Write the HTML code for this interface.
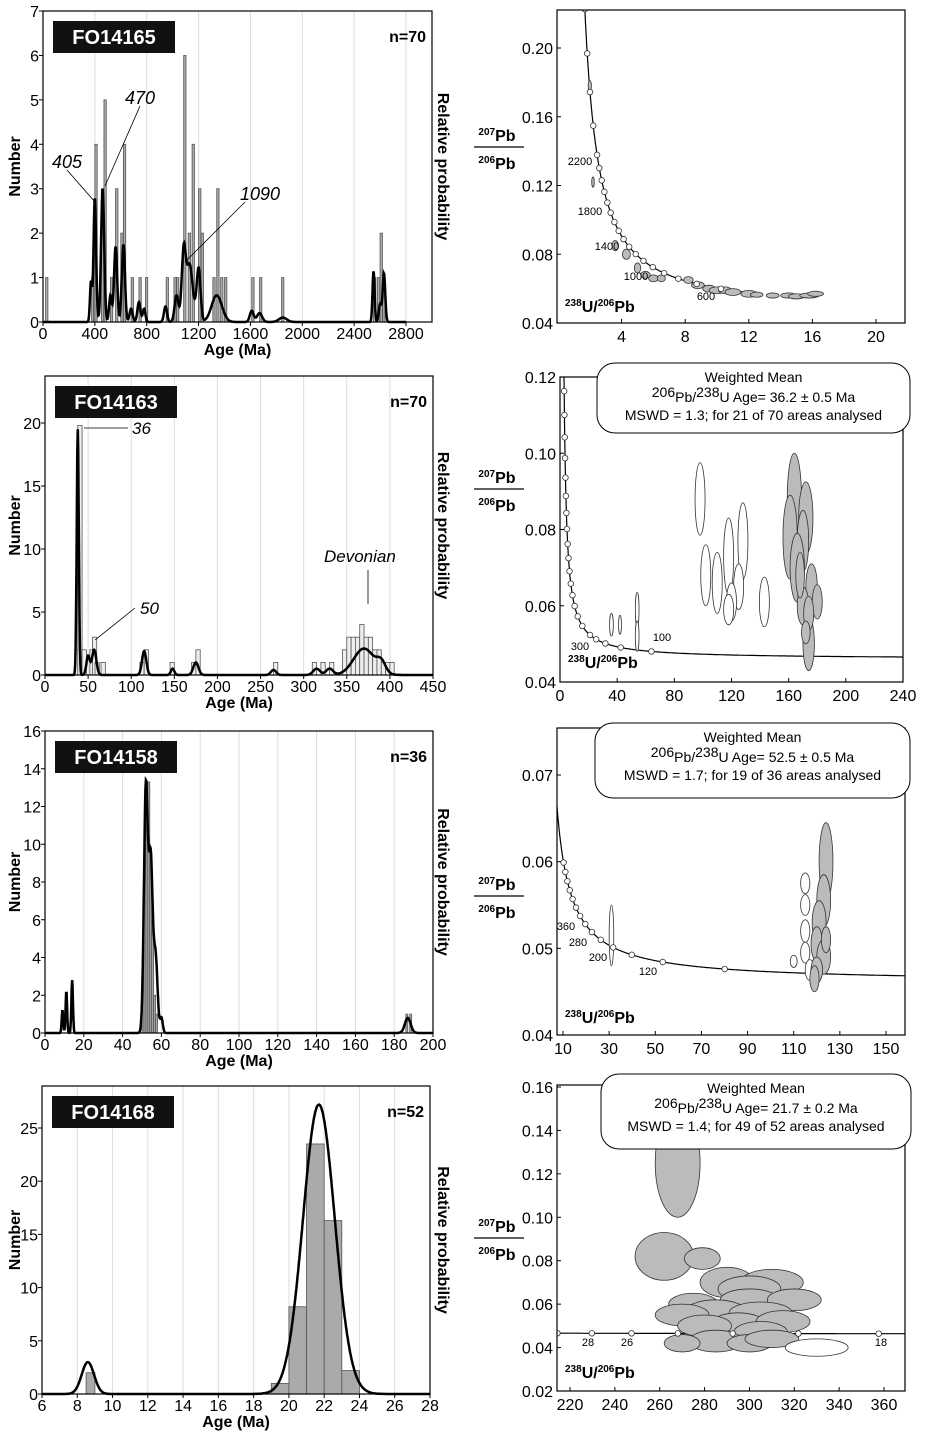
<!DOCTYPE html>
<html><head><meta charset="utf-8"><style>
html,body{margin:0;padding:0;background:#fff}
svg{display:block;font-family:"Liberation Sans",sans-serif}
</style></head><body>
<svg id="fig" width="929" height="1441" viewBox="0 0 929 1441" xmlns="http://www.w3.org/2000/svg"></svg>
<script>
// ---------- DATA ----------
const aBarAges=[20,375,390,400,450,470,520,560,600,620,680,740,790,950,1010,1030,1085,1120,1150,1200,1220,1310,1340,1370,1400,1610,1670,1840,2550,2580,2600,2620];
const aBarCounts=[1,1,2,4,3,5,1,3,2,4,1,1,1,1,1,1,6,2,4,3,2,1,3,1,1,1,1,1,1,1,2,1];
const aPeakAges=[370,400,460,520,560,620,680,740,780,945,1030,1085,1130,1200,1340,1610,1670,1850,2550,2600,2630];
const aPeakHeights=[0.9,2.8,3.0,0.6,1.7,1.75,0.3,0.45,0.3,0.35,0.6,1.5,1.3,1.2,0.6,0.25,0.2,0.1,1.15,0.4,1.1];
const aPeakSigmas=[8,10,12,10,12,12,12,12,10,12,15,15,25,15,40,15,20,30,8,10,10];
const bBarAges=[35,38,43,52,55,58,65,110,115,145,170,175,265,310,320,330,345,350,355,360,365,370,375,380,385,390,395,400];
const bBarCounts=[2,19.8,2,2,3,1,1,1,2,1,1,2,1,1,1,1,2,3,3,3,4,3,3,2,2,1,1,1];
const bPeakAges=[38,50,57,115,148,175,265,315,330,370,390];
const bPeakHeights=[19.5,1.5,2.0,1.9,0.5,1.0,0.4,0.5,0.5,2.1,0.8];
const bPeakSigmas=[1.2,2,2.5,2.5,2,3,3,4,4,12,5];
const cBarAges=[50,51,52,53,54,55,56,57,186,188];
const cBarCounts=[4,10,13,13.3,9,6,2,1,1,1];
const cPeakAges=[9,11,14,52,54.5,57,60,187];
const cPeakHeights=[1.2,2.2,2.8,13,9,4,0.8,0.8];
const cPeakSigmas=[0.4,0.4,0.4,1,1,1,0.7,1.5];
const dBarAges=[8.5,19,20,21,22,23];
const dBarWidths=[0.5,1,1,1,1,1];
const dBarCounts=[2,1,8.2,23.5,16.3,2.2];
const dPeakAges=[8.6,21.7];
const dPeakHeights=[3.0,27.2];
const dPeakSigmas=[0.35,0.9];
const eEllipses=[[2,0.178,0.1,0.003,1],[2.2,0.122,0.08,0.003,1],[3.6,0.085,0.2,0.003,1],[4.3,0.08,0.25,0.003,1],[5,0.072,0.2,0.003,1],[5.5,0.068,0.3,0.002,1],[6,0.066,0.3,0.002,1],[6.5,0.066,0.25,0.002,1],[8.2,0.065,0.3,0.002,1],[8.8,0.062,0.4,0.002,1],[9.5,0.06,0.4,0.002,1],[10,0.059,0.5,0.002,1],[10.5,0.059,0.4,0.002,1],[11,0.058,0.5,0.002,1],[12,0.057,0.5,0.002,1],[12.5,0.0565,0.4,0.0015,1],[13.5,0.056,0.4,0.0015,1],[14.5,0.056,0.5,0.0015,1],[15,0.0555,0.5,0.0015,1],[15.8,0.056,0.6,0.0015,1],[16.2,0.057,0.5,0.0015,1]];
const fEllipses=[[98,0.088,3.5,0.0095,0],[102,0.068,3.5,0.008,0],[110,0.066,3.5,0.008,0],[118,0.073,3.5,0.01,0],[128,0.077,3.5,0.01,0],[125,0.065,3.5,0.006,0],[120,0.061,3.5,0.005,0],[118,0.059,3.5,0.004,0],[143,0.061,3.5,0.0065,0],[54,0.059,1.3,0.0045,0],[54,0.052,1.3,0.004,0],[36,0.055,1.3,0.003,0],[42,0.055,1,0.0025,0],[164,0.088,5,0.012,1],[172,0.083,5,0.0095,1],[161,0.078,5,0.011,1],[170,0.077,4,0.008,1],[166,0.07,5,0.009,1],[176,0.065,4,0.006,1],[174,0.05,4,0.007,1],[170,0.06,4,0.005,1],[180,0.061,3.5,0.0045,1],[174,0.058,3.5,0.0045,1],[172,0.053,3,0.003,1],[168,0.068,3,0.006,1]];
const gEllipses=[[31,0.0515,1,0.0035,0],[110,0.0485,1.5,0.0007,0],[115,0.0575,2,0.0012,0],[115,0.055,2,0.0012,0],[115,0.052,2,0.0013,0],[115,0.0495,2,0.0012,0],[117,0.0475,2,0.0012,0],[124,0.06,3,0.0045,1],[123,0.0555,3,0.003,1],[121,0.053,3,0.0025,1],[120,0.0505,2.5,0.002,1],[123,0.049,3,0.002,1],[120,0.0475,2.5,0.0015,1],[119,0.0465,2,0.0015,1],[124,0.051,2,0.0015,1]];
const hEllipses=[[268,0.125,10,0.025,1],[262,0.082,13,0.011,1],[279,0.081,8,0.005,1],[290,0.07,12,0.007,1],[310,0.07,14,0.006,1],[300,0.067,14,0.006,1],[275,0.06,11,0.005,1],[300,0.062,13,0.005,1],[320,0.062,12,0.005,1],[285,0.056,14,0.006,1],[305,0.056,14,0.005,1],[270,0.055,12,0.005,1],[295,0.05,13,0.006,1],[315,0.052,12,0.005,1],[280,0.05,12,0.005,1],[305,0.047,12,0.005,1],[285,0.043,12,0.005,1],[300,0.042,10,0.004,1],[270,0.042,8,0.004,1],[310,0.044,12,0.004,1],[330,0.04,14,0.004,0]];

const NS="http://www.w3.org/2000/svg";
const svg=document.getElementById('fig');
function mk(tag,attrs,parent){const e=document.createElementNS(NS,tag);for(const k in attrs)e.setAttribute(k,attrs[k]);(parent||svg).appendChild(e);return e;}
function txt(x,y,s,size,opts,parent){const t=mk('text',Object.assign({x:x,y:y,'font-size':size},opts||{}),parent);t.textContent=s;return t;}

function hist(cfg){
  const g=mk('g',{});
  
  
  const X=v=>cfg.x0+(v-cfg.xmin)/(cfg.xmax-cfg.xmin)*(cfg.x1-cfg.x0);
  const Y=v=>cfg.y0-(v)/(cfg.ymax)*(cfg.y0-cfg.y1);
  cfg.xticks.forEach(v=>{const l=mk('line',{x1:X(v),x2:X(v),y1:cfg.top,y2:cfg.y0,stroke:'#ddd','stroke-width':1},g);
    });
  const bw=cfg.bw;
  cfg.ages.forEach((a,i)=>{const w=cfg.widths?cfg.widths[i]:bw;
    const r=mk('rect',{x:X(a),y:Y(cfg.counts[i]),width:Math.max(1,X(a+w)-X(a)),height:Y(0)-Y(cfg.counts[i]),fill:cfg.fill,stroke:'#555','stroke-width':0.8},g);
    });
  let d='';const N=900;
  for(let i=0;i<=N;i++){const v=cfg.xmin+(cfg.xmax-cfg.xmin)*i/N;let s=0;
    cfg.pa.forEach((c,j)=>{s+=cfg.ph[j]*Math.exp(-0.5*Math.pow((v-c)/cfg.ps[j],2));});
    d+=(i?'L':'M')+X(v).toFixed(1)+' '+Y(s).toFixed(1);}
  const p=mk('path',{d:d,fill:'none',stroke:'#000','stroke-width':cfg.lw||2.5},g);
  
  const box=mk('rect',{x:cfg.x0,y:cfg.top,width:cfg.right-cfg.x0,height:cfg.y0-cfg.top,fill:'none',stroke:'#000','stroke-width':1.2},g);
  
  cfg.xticks.forEach(v=>{mk('line',{x1:X(v),x2:X(v),y1:cfg.y0,y2:cfg.y0+4,stroke:'#000'},g);
    const t=txt(X(v),cfg.y0+17,String(v),16,{'text-anchor':'middle'},g);});
  cfg.yticks.forEach(v=>{mk('line',{x1:cfg.x0-4,x2:cfg.x0,y1:Y(v),y2:Y(v),stroke:'#000'},g);
    const t=txt(cfg.x0-4,Y(v)+6,String(v),16,{'text-anchor':'end'},g);});
  const xt=txt((cfg.x0+cfg.right)/2,cfg.y0+33,'Age (Ma)',16,{'text-anchor':'middle','font-weight':'bold'},g);
  
  const yt=txt(0,0,'Number',16,{'text-anchor':'middle','font-weight':'bold',transform:`translate(20,${(cfg.top+cfg.y0)/2}) rotate(-90)`},g);
  
  const rt=txt(0,0,'Relative probability',16,{'text-anchor':'middle','font-weight':'bold',transform:`translate(438,${(cfg.top+cfg.y0)/2}) rotate(90)`},g);
  
  const lb=mk('rect',{x:cfg.x0+10,y:cfg.top+10,width:122,height:32,fill:'#111'},g);
  
  const lt=txt(cfg.x0+71,cfg.top+33,cfg.label,20,{'text-anchor':'middle',fill:'#fff','font-weight':'bold'},g);
  
  const nt=txt(cfg.right-6,cfg.top+31,cfg.n,16,{'text-anchor':'end','font-weight':'bold'},g);
  
  return {g,X,Y};
}
const A=hist({name:'histogram-fo14165',label:'FO14165',n:'n=70',x0:43,x1:406,xmin:0,xmax:2800,right:432,y0:322,y1:11,ymax:7,top:11,
  xticks:[0,400,800,1200,1600,2000,2400,2800],yticks:[0,1,2,3,4,5,6,7],ages:aBarAges,counts:aBarCounts,bw:18,fill:'#aaa',pa:aPeakAges,ph:aPeakHeights,ps:aPeakSigmas});
[['405',52,168,95,202],['470',125,104,105,186],['1090',240,200,185,262]].forEach(a=>{
  mk('line',{x1:a[3],y1:a[4],x2:a[1]+(a[0]==='1090'?5:15),y2:a[2]+2,stroke:'#000','stroke-width':0.8},A.g);
  const t=txt(a[1],a[2],a[0],18,{'font-style':'italic'},A.g);});
const B=hist({name:'histogram-fo14163',label:'FO14163',n:'n=70',x0:45,x1:433,xmin:0,xmax:450,right:433,y0:675,y1:423,ymax:20,top:376,
  xticks:[0,50,100,150,200,250,300,350,400,450],yticks:[0,5,10,15,20],ages:bBarAges,counts:bBarCounts,bw:5,fill:'#eee',pa:bPeakAges,ph:bPeakHeights,ps:bPeakSigmas});
[['36',132,434],['50',140,614],['Devonian',324,562]].forEach(a=>{const t=txt(a[1],a[2],a[0],17,{'font-style':'italic'},B.g);});
mk('line',{x1:84,y1:428,x2:128,y2:428,stroke:'#000','stroke-width':0.8},B.g);
mk('line',{x1:95,y1:640,x2:135,y2:608,stroke:'#000','stroke-width':0.8},B.g);
mk('line',{x1:368,y1:570,x2:368,y2:604,stroke:'#000','stroke-width':0.8},B.g);
const C=hist({name:'histogram-fo14158',label:'FO14158',n:'n=36',x0:45,x1:433,xmin:0,xmax:200,right:433,y0:1033,y1:731,ymax:16,top:731,
  xticks:[0,20,40,60,80,100,120,140,160,180,200],yticks:[0,2,4,6,8,10,12,14,16],ages:cBarAges,counts:cBarCounts,bw:1,fill:'#aaa',pa:cPeakAges,ph:cPeakHeights,ps:cPeakSigmas});
const D=hist({name:'histogram-fo14168',label:'FO14168',n:'n=52',x0:42,x1:430,xmin:6,xmax:28,right:430,y0:1394,y1:1128,ymax:25,top:1086,
  xticks:[6,8,10,12,14,16,18,20,22,24,26,28],yticks:[0,5,10,15,20,25],ages:dBarAges,widths:dBarWidths,counts:dBarCounts,bw:1,fill:'#aaa',pa:dPeakAges,ph:dPeakHeights,ps:dPeakSigmas});

const L238=1.55125e-4,L235=9.8485e-4;
function tw(t){const e8=Math.exp(L238*t)-1,e5=Math.exp(L235*t)-1;return [1/e8,e5/e8/137.88];}
function conc(cfg){
  const g=mk('g',{});
  
  
  const X=v=>cfg.px0+(v-cfg.xmin)/(cfg.xmax-cfg.xmin)*(cfg.px1-cfg.px0);
  const Y=v=>cfg.py0-(v-cfg.ymin)/(cfg.ymax-cfg.ymin)*(cfg.py0-cfg.py1);
  const clip=mk('clipPath',{id:'c'+cfg.name},g);mk('rect',{x:cfg.bx0,y:cfg.by0,width:cfg.bx1-cfg.bx0,height:cfg.by1-cfg.by0},clip);
  const inner=mk('g',{'clip-path':`url(#c${cfg.name})`},g);
  let d='',first=true;
  for(let i=0;i<=600;i++){const t=cfg.tmin*Math.pow(cfg.tmax/cfg.tmin,i/600);const p=tw(t);
    d+=(first?'M':'L')+X(p[0]).toFixed(1)+' '+Y(p[1]).toFixed(1);first=false;}
  const cp=mk('path',{d:d,fill:'none',stroke:'#000','stroke-width':1.2},inner);
  
  cfg.ell.forEach(e=>{const el=mk('ellipse',{cx:X(e[0]),cy:Y(e[1]),rx:Math.abs(X(e[0]+e[2])-X(e[0])),ry:Math.abs(Y(e[1]+e[3])-Y(e[1])),fill:e[4]?'#bbb':'#fff',stroke:'#333','stroke-width':0.8},inner);
    });
  cfg.marks.forEach(t=>{const p=tw(t);const c=mk('circle',{cx:X(p[0]),cy:Y(p[1]),r:2.8,fill:'#fff',stroke:'#333','stroke-width':0.8},inner);
    });
  const fr=mk('rect',{x:cfg.bx0,y:cfg.by0,width:cfg.bx1-cfg.bx0,height:cfg.by1-cfg.by0,fill:'none',stroke:'#000','stroke-width':1.2},g);
  
  cfg.xticks.forEach(v=>{mk('line',{x1:X(v),x2:X(v),y1:cfg.by1,y2:cfg.by1-4,stroke:'#000'},g);
    const t=txt(X(v),cfg.by1+19,String(v),16,{'text-anchor':'middle'},g);});
  cfg.yticks.forEach(v=>{mk('line',{x1:cfg.bx0,x2:cfg.bx0+4,y1:Y(v),y2:Y(v),stroke:'#000'},g);
    const t=txt(cfg.bx0-4,Y(v)+6,v.toFixed(2),16,{'text-anchor':'end'},g);});
  cfg.labels.forEach(l=>{const t=txt(l[1],l[2],l[0],11,{'text-anchor':'middle'},g);});
  const yt=mk('text',{x:497,y:cfg.yt-6,'font-size':16,'font-weight':'bold','text-anchor':'middle'},g);
  yt.innerHTML='<tspan font-size="10" dy="-6">207</tspan><tspan dy="6">Pb</tspan>';
  
  mk('line',{x1:474,x2:524,y1:cfg.yt,y2:cfg.yt,stroke:'#000','stroke-width':1.2},g);
  const yt2=mk('text',{x:497,y:cfg.yt+22,'font-size':16,'font-weight':'bold','text-anchor':'middle'},g);
  yt2.innerHTML='<tspan font-size="10" dy="-6">206</tspan><tspan dy="6">Pb</tspan>';
  
  const xt=mk('text',{x:cfg.bx0+8,y:cfg.xt,'font-size':16,'font-weight':'bold'},g);
  xt.innerHTML='<tspan font-size="10" dy="-6">238</tspan><tspan dy="6">U/</tspan><tspan font-size="10" dy="-6">206</tspan><tspan dy="6">Pb</tspan>';
  
  if(cfg.box){const b=cfg.box;
    const r=mk('rect',{x:b[0],y:b[1],width:b[2],height:b[3],rx:18,fill:'#fff',stroke:'#000','stroke-width':1},g);
    
    const cx=b[0]+b[2]/2;
    const t1=txt(cx,b[1]+19,'Weighted Mean',14,{'text-anchor':'middle'},g);
    const t2=mk('text',{x:cx,y:b[1]+39,'font-size':14,'text-anchor':'middle'},g);
    t2.innerHTML='<tspan dy="-5">206</tspan><tspan dy="5">Pb/</tspan><tspan dy="-5">238</tspan><tspan dy="5">U Age= '+cfg.age+'</tspan>';
    
    const t3=txt(cx,b[1]+57,cfg.mswd,14,{'text-anchor':'middle'},g);}
}
conc({name:'concordia-fo14165',px0:558,px1:876,xmin:0,xmax:20,py0:323,py1:48,ymin:0.04,ymax:0.20,bx0:557,bx1:905,by0:10,by1:323,
  tmin:500,tmax:4000,ell:eEllipses,marks:[600,700,800,900,1000,1100,1200,1300,1400,1500,1600,1700,1800,1900,2000,2100,2200,2400,2600,2800,3000,3200],
  xticks:[4,8,12,16,20],yticks:[0.04,0.08,0.12,0.16,0.20],labels:[['2200',580,165],['1800',590,215],['1400',607,250],['1000',636,280],['600',706,300]],yt:147,xt:312});
conc({name:'concordia-fo14163',px0:560,px1:903,xmin:0,xmax:240,py0:682,py1:377,ymin:0.04,ymax:0.12,bx0:560,bx1:903,by0:377,by1:682,
  tmin:25,tmax:4000,ell:fEllipses,marks:[100,150,200,250,300,400,500,600,700,800,900,1000,1100,1200,1300,1400,1500,1600,1700,1800,1900,2000],
  xticks:[0,40,80,120,160,200,240],yticks:[0.04,0.06,0.08,0.10,0.12],labels:[['300',580,650],['100',662,641]],yt:489,xt:668,
  box:[597,363,313,70],age:'36.2 ± 0.5 Ma',mswd:'MSWD = 1.3; for 21 of 70 areas analysed'});
conc({name:'concordia-fo14158',px0:563,px1:886,xmin:10,xmax:150,py0:1035,py1:775,ymin:0.04,ymax:0.07,bx0:557,bx1:905,by0:728,by1:1035,
  tmin:35,tmax:1000,ell:gEllipses,marks:[80,120,160,200,240,280,320,360,400,440,480,520,560,600],
  xticks:[10,30,50,70,90,110,130,150],yticks:[0.04,0.05,0.06,0.07],labels:[['360',566,930],['280',578,946],['200',598,961],['120',648,975]],yt:896,xt:1023,
  box:[595,723,315,75],age:'52.5 ± 0.5 Ma',mswd:'MSWD = 1.7; for 19 of 36 areas analysed'});
conc({name:'concordia-fo14168',px0:570,px1:884,xmin:220,xmax:360,py0:1391,py1:1087,ymin:0.02,ymax:0.16,bx0:557,bx1:905,by0:1085,by1:1391,
  tmin:17,tmax:30,ell:hEllipses,marks:[18,20,22,24,26,28,30],
  xticks:[220,240,260,280,300,320,340,360],yticks:[0.02,0.04,0.06,0.08,0.10,0.12,0.14,0.16],labels:[['28',588,1346],['26',627,1346],['18',881,1346]],yt:1238,xt:1378,
  box:[601,1074,310,75],age:'21.7 ± 0.2 Ma',mswd:'MSWD = 1.4; for 49 of 52 areas analysed'});
</script>
</body></html>
